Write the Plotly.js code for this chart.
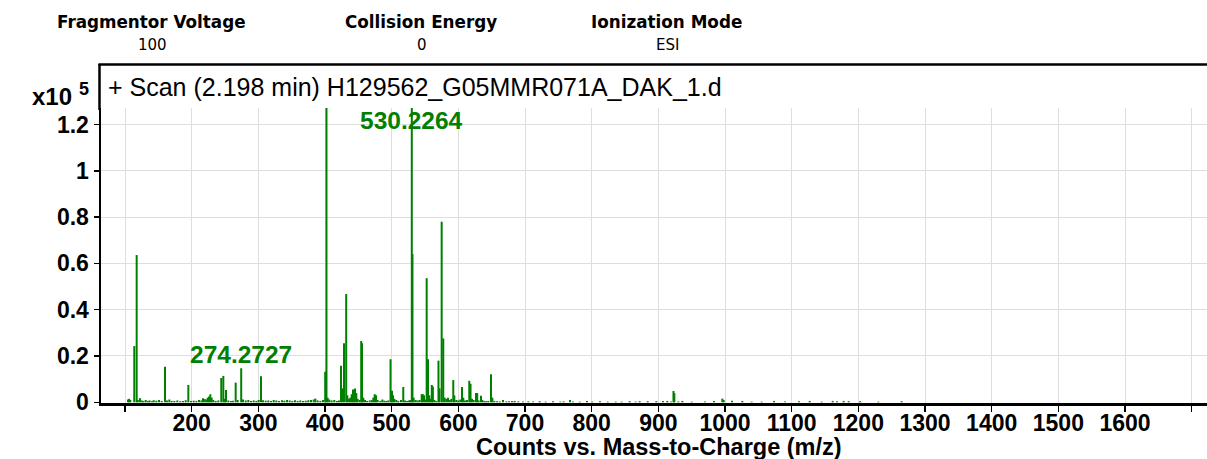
<!DOCTYPE html>
<html>
<head>
<meta charset="utf-8">
<script src="https://cdn.plot.ly/plotly-3.0.1.min.js"></script>
<style>
  html, body { margin: 0; padding: 0; background: #ffffff; }
  #chart { width: 1207px; height: 459px; }
</style>
</head>
<body>
<div id="chart"></div>
<script>
// ---- Data ----
// m/z positions of the spectrum sticks
const peakMz = [
  104.5, 106.2, 108.0, 113.9, 117.5, 119.2, 122.4, 125.0, 127.5, 131.0,
  134.2, 137.0, 140.5, 143.0, 147.0, 151.0, 155.0, 160.0, 163.0, 166.5,
  170.0, 174.0, 178.5, 183.0, 187.0, 191.0, 195.0, 199.0, 203.0, 207.0,
  211.0, 214.5, 217.0, 219.5, 222.0, 224.0, 226.0, 228.0, 230.0, 232.5,
  236.0, 240.0, 244.4, 247.5, 249.5, 251.5, 255.0, 259.0, 262.0, 266.0,
  269.0, 274.3, 277.0, 281.0, 285.0, 289.0, 293.0, 297.0, 300.5, 304.0,
  307.0, 311.0, 315.0, 319.0, 323.0, 327.0, 331.0, 335.5, 339.0, 343.0,
  347.0, 351.0, 355.0, 359.0, 363.0, 367.0, 371.0, 375.0, 379.0, 383.0,
  385.5, 389.0, 393.0, 397.0, 400.3, 402.2, 404.0, 406.5, 410.0, 414.0,
  418.0, 421.0, 424.0, 425.8, 428.5, 431.8, 433.5, 436.0, 438.0, 440.0,
  442.0, 443.5, 445.0, 447.0, 449.0, 452.0, 454.3, 455.5, 457.5, 460.0,
  463.0, 467.0, 470.0, 472.5, 474.5, 476.5, 479.0, 483.0, 486.0, 489.0,
  492.0, 495.0, 498.3, 500.5, 502.0, 504.0, 507.0, 510.0, 514.0, 517.4,
  520.0, 523.0, 526.0, 528.0, 530.2, 531.2, 533.0, 536.0, 539.0, 542.0,
  545.0, 546.5, 548.5, 550.5, 552.5, 554.5, 556.5, 558.5, 560.2, 561.8,
  564.0, 567.0, 570.2, 571.8, 575.0, 577.4, 579.5, 582.0, 584.5, 587.0,
  589.5, 592.4, 594.0, 597.0, 600.0, 603.0, 605.5, 607.5, 610.0, 613.0,
  616.4, 618.3, 620.5, 623.0, 626.5, 628.3, 630.5, 634.0, 636.0, 639.0,
  642.0, 645.0, 649.0, 651.0, 654.0, 658.0, 662.0, 667.0, 672.0, 676.0,
  680.5, 684.5, 690.0, 697.0, 705.0, 712.0, 722.0, 731.0, 742.0, 753.0,
  758.0, 767.5, 772.0, 782.0, 793.0, 801.0, 812.5, 824.0, 836.0, 845.0,
  857.0, 866.0, 872.0, 884.0, 897.0, 907.0, 913.5, 919.0, 922.7, 924.0,
  930.0, 936.0, 950.0, 970.0, 983.5, 996.0, 998.0, 1010.5, 1026.0, 1040.0,
  1055.0, 1073.6, 1090.0, 1111.0, 1127.0, 1145.0, 1161.5, 1168.0, 1178.0, 1185.6,
  1202.8, 1230.0, 1264.9
];
// counts, in units of 10^5
const peakCounts = [
  0.012, 0.015, 0.010, 0.243, 0.636, 0.010, 0.018, 0.008, 0.006, 0.010,
  0.006, 0.008, 0.005, 0.009, 0.007, 0.010, 0.006, 0.154, 0.008, 0.012,
  0.006, 0.006, 0.008, 0.005, 0.006, 0.009, 0.075, 0.006, 0.007, 0.006,
  0.010, 0.008, 0.018, 0.014, 0.012, 0.020, 0.025, 0.035, 0.020, 0.010,
  0.006, 0.008, 0.105, 0.114, 0.015, 0.053, 0.008, 0.006, 0.007, 0.085,
  0.010, 0.147, 0.012, 0.008, 0.010, 0.006, 0.008, 0.006, 0.010, 0.112,
  0.009, 0.007, 0.008, 0.006, 0.010, 0.008, 0.006, 0.009, 0.007, 0.010,
  0.008, 0.006, 0.009, 0.006, 0.008, 0.006, 0.007, 0.009, 0.010, 0.012,
  0.016, 0.008, 0.006, 0.010, 0.132, 1.280, 0.020, 0.012, 0.008, 0.010,
  0.006, 0.008, 0.158, 0.060, 0.255, 0.468, 0.030, 0.015, 0.020, 0.035,
  0.055, 0.050, 0.060, 0.040, 0.015, 0.010, 0.265, 0.255, 0.020, 0.010,
  0.006, 0.008, 0.010, 0.020, 0.035, 0.030, 0.010, 0.006, 0.012, 0.007,
  0.006, 0.008, 0.186, 0.050, 0.030, 0.015, 0.010, 0.006, 0.010, 0.066,
  0.008, 0.006, 0.008, 0.010, 1.290, 0.640, 0.020, 0.010, 0.008, 0.010,
  0.035, 0.036, 0.030, 0.012, 0.536, 0.186, 0.030, 0.015, 0.075, 0.068,
  0.010, 0.006, 0.180, 0.060, 0.780, 0.276, 0.020, 0.015, 0.020, 0.010,
  0.015, 0.096, 0.030, 0.010, 0.008, 0.012, 0.066, 0.020, 0.008, 0.010,
  0.093, 0.080, 0.015, 0.010, 0.040, 0.040, 0.008, 0.028, 0.010, 0.006,
  0.005, 0.006, 0.121, 0.020, 0.006, 0.005, 0.004, 0.010, 0.004, 0.005,
  0.006, 0.006, 0.004, 0.003, 0.004, 0.003, 0.005, 0.003, 0.005, 0.003,
  0.004, 0.010, 0.004, 0.003, 0.006, 0.003, 0.005, 0.003, 0.003, 0.003,
  0.005, 0.003, 0.005, 0.005, 0.005, 0.006, 0.006, 0.004, 0.049, 0.040,
  0.004, 0.006, 0.003, 0.003, 0.006, 0.016, 0.010, 0.007, 0.006, 0.003,
  0.003, 0.006, 0.003, 0.005, 0.006, 0.003, 0.006, 0.005, 0.006, 0.005,
  0.005, 0.003, 0.005
];
const xTickVals = [100, 200, 300, 400, 500, 600, 700, 800, 900, 1000, 1100, 1200, 1300, 1400, 1500, 1600, 1700];
const xTickText = ['', '200', '300', '400', '500', '600', '700', '800', '900', '1000', '1100', '1200', '1300', '1400', '1500', '1600', ''];
const yTickVals = [0, 0.2, 0.4, 0.6, 0.8, 1.0, 1.2];
const yTickText = ['0', '0.2', '0.4', '0.6', '0.8', '1', '1.2'];
const headerNames = ['Fragmentor Voltage', 'Collision Energy', 'Ionization Mode'];
const headerValues = ['100', '0', 'ESI'];
const scanTitle = '+ Scan (2.198 min) H129562_G05MMR071A_DAK_1.d';
const peakLabels = [{mz: 530.2264, text: '530.2264'}, {mz: 274.2727, text: '274.2727'}];
const xAxisTitle = 'Counts vs. Mass-to-Charge (m/z)';

// ---- Layout geometry ----
const W = 1207, H = 459;
const M = {l: 101, r: 0, t: 108, b: 56};
const PW = W - M.l - M.r, PH = H - M.t - M.b;
const px = x => (x - M.l) / PW;           // pixel x -> paper
const py = y => (H - M.b - y) / PH;       // pixel y -> paper

// stick spectrum built from the data arrays
const sx = [], sy = [];
peakMz.forEach((m, i) => { sx.push(m, m, null); sy.push(0, peakCounts[i], null); });

const GREEN = '#008000';
const SANS = 'Liberation Sans, Arial, sans-serif';
const HEAD = 'DejaVu Sans, Verdana, sans-serif';

const headerX = [151, 421, 666];
const annotations = [];
headerNames.forEach((t, i) => {
  annotations.push({xref: 'paper', yref: 'paper', x: px(headerX[i]), y: py(22), text: '<b>' + t + '</b>',
    showarrow: false, xanchor: 'center', yanchor: 'middle', font: {family: HEAD, size: 16.8, color: '#000'}});
  annotations.push({xref: 'paper', yref: 'paper', x: px(headerX[i] + 1), y: py(45), text: headerValues[i],
    showarrow: false, xanchor: 'center', yanchor: 'middle', font: {family: HEAD, size: 15, color: '#000'}});
});
annotations.push({xref: 'paper', yref: 'paper', x: px(106), y: py(87), text: scanTitle, showarrow: false,
  xanchor: 'left', yanchor: 'middle', font: {family: SANS, size: 25, color: '#000'}});
annotations.push({xref: 'paper', yref: 'paper', x: px(52), y: py(96), text: '<b>x10</b>', showarrow: false,
  xanchor: 'center', yanchor: 'middle', font: {family: SANS, size: 24, color: '#000'}});
annotations.push({xref: 'paper', yref: 'paper', x: px(84), y: py(89), text: '<b>5</b>', showarrow: false,
  xanchor: 'center', yanchor: 'middle', font: {family: SANS, size: 18, color: '#000'}});
const labelY = [121, 354];
peakLabels.forEach((p, i) => {
  annotations.push({xref: 'x', yref: 'paper', x: p.mz, y: py(labelY[i]), text: '<b>' + p.text + '</b>', showarrow: false,
    xanchor: 'center', yanchor: 'middle', font: {family: SANS, size: 24.5, color: GREEN}});
});
annotations.push({xref: 'paper', yref: 'paper', x: px(659), y: py(447), text: '<b>' + xAxisTitle + '</b>', showarrow: false,
  xanchor: 'center', yanchor: 'middle', font: {family: SANS, size: 23.5, color: '#000'}});

const shapes = [
  {type: 'line', xref: 'paper', yref: 'paper', x0: px(98.5), x1: px(1207), y0: py(64.5), y1: py(64.5),
    line: {color: '#000', width: 2.5}},
  {type: 'line', xref: 'paper', yref: 'paper', x0: px(99.5), x1: px(99.5), y0: py(64), y1: py(110),
    line: {color: '#000', width: 2.5}}
];

const trace = {
  type: 'scatter', mode: 'lines', x: sx, y: sy, connectgaps: false,
  line: {color: GREEN, width: 2}, hoverinfo: 'skip'
};

const layout = {
  width: W, height: H,
  margin: M,
  paper_bgcolor: '#ffffff', plot_bgcolor: '#ffffff',
  showlegend: false,
  xaxis: {
    range: [64, 1723], tickmode: 'array', tickvals: xTickVals, ticktext: xTickText,
    showgrid: true, gridcolor: '#dedede', gridwidth: 1, zeroline: false,
    showline: true, linecolor: '#000', linewidth: 3,
    ticks: 'outside', ticklen: 6, tickwidth: 1.5, tickcolor: '#000',
    ticklabelstandoff: -9,
    tickfont: {family: SANS, size: 23, color: '#000', weight: 'bold'}
  },
  yaxis: {
    range: [-0.003, 1.271], tickmode: 'array', tickvals: yTickVals, ticktext: yTickText,
    showgrid: true, gridcolor: '#dedede', gridwidth: 1, zeroline: false,
    showline: true, linecolor: '#000', linewidth: 2.5,
    ticks: 'outside', ticklen: 5, tickwidth: 1.5, tickcolor: '#000',
    tickfont: {family: SANS, size: 23, color: '#000', weight: 'bold'}
  },
  annotations: annotations,
  shapes: shapes
};

Plotly.newPlot('chart', [trace], layout, {displayModeBar: false, staticPlot: true});
</script>
</body>
</html>
